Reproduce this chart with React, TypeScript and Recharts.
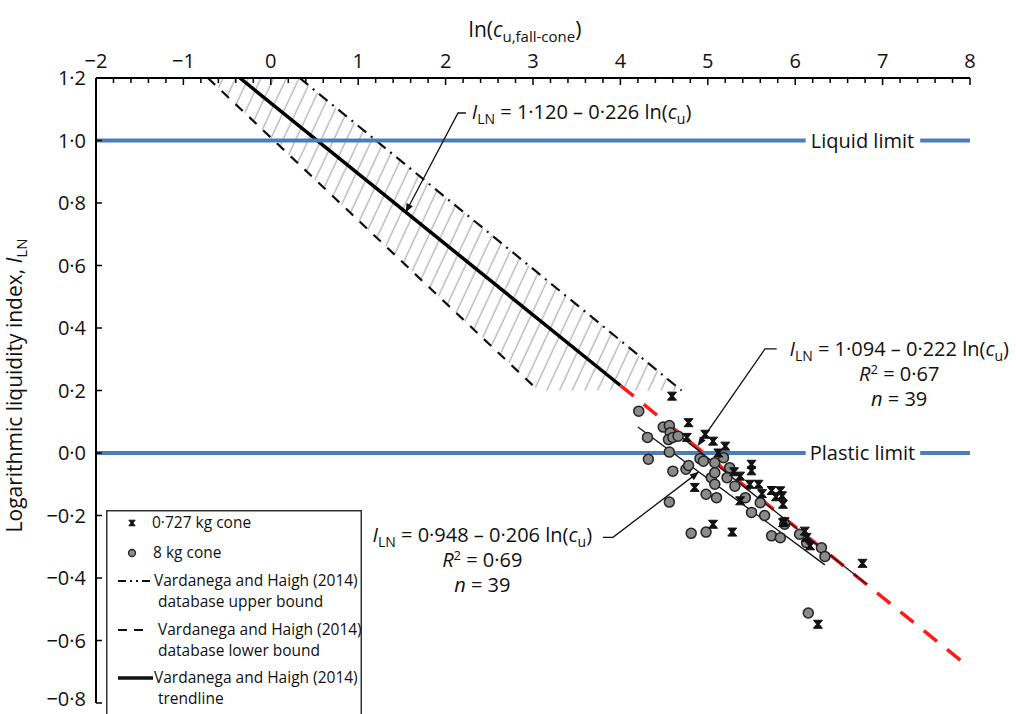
import { Area, ComposedChart, Legend, Line, ReferenceDot, ReferenceLine, Scatter, XAxis, YAxis } from "recharts";

const FONT = '"Open Sans", "Noto Sans", sans-serif';
const BLUE = "#4a7ebb";
const RED = "#ff1a1a";
const FS = 20; // annotation + tick font size

// axes
const X_LABELS = [-2, -1, 0, 1, 2, 3, 4, 5, 6, 7, 8];
const X_TICKS = Array.from({ length: 51 }, (_, i) => +(-2 + i * 0.2).toFixed(1)); // minor every 0.2
const Y_TICKS = [-0.8, -0.6, -0.4, -0.2, 0, 0.2, 0.4, 0.6, 0.8, 1.0, 1.2];

// 0·727 kg cone
const SMALL_X = [4.59, 4.78, 4.76, 4.97, 5.06, 5.2, 5.12, 4.85, 5.06, 5.28, 5.37, 5.37, 5.5, 5.5, 5.48, 5.58, 5.73, 5.83, 5.85, 5.86, 5.86, 6.11, 6.13, 6.17, 6.77, 6.26, 5.3, 5.78, 5.88, 5.62];
const SMALL_Y = [0.182, 0.097, 0.05, 0.06, 0.038, 0.022, 0.0, -0.11, -0.228, -0.253, -0.074, -0.153, -0.036, -0.057, -0.1, -0.1, -0.12, -0.121, -0.137, -0.164, -0.223, -0.25, -0.27, -0.297, -0.353, -0.548, -0.06, -0.14, -0.22, -0.13];

// 8 kg cone
const BIG_X = [4.21, 4.31, 4.32, 4.49, 4.56, 4.57, 4.55, 4.6, 4.66, 4.56, 4.56, 4.6, 4.75, 4.78, 4.81, 4.91, 4.95, 4.98, 4.98, 5.04, 5.08, 5.08, 5.08, 5.1, 5.18, 5.22, 5.25, 5.31, 5.43, 5.5, 5.6, 5.65, 5.73, 5.83, 5.88, 6.05, 6.13, 6.3, 6.34, 6.15];
const BIG_Y = [0.134, 0.05, -0.02, 0.083, 0.088, 0.065, 0.043, 0.05, 0.054, 0.003, -0.157, -0.058, -0.052, -0.04, -0.257, -0.018, -0.026, -0.132, -0.253, -0.079, -0.031, -0.063, -0.1, -0.143, -0.015, -0.079, -0.047, -0.106, -0.143, -0.19, -0.159, -0.2, -0.265, -0.271, -0.228, -0.26, -0.287, -0.303, -0.331, -0.512];

// Vardanega and Haigh (2014) database band (corners)
const BAND_X = [-0.72, 0.33, 3.06, 4.7];
const BAND_LO = [1.2, 0.92, 0.2, 0.2];
const BAND_HI = [1.2, 1.2, 0.575, 0.2];
const UPPER = [{ x: 0.33, y: 1.2 }, { x: 4.7, y: 0.2 }];
const LOWER = [{ x: -0.72, y: 1.2 }, { x: 3.06, y: 0.2 }];
const TREND = [{ x: -0.354, y: 1.2 }, { x: 4.0, y: 0.216 }];
const TREND_EXT = [{ x: 4.0, y: 0.216 }, { x: 8.0, y: -0.688 }];

// fitted lines of this study
const FIT_SMALL = [{ x: 4.65, y: 0.062 }, { x: 6.82, y: -0.42 }];
const FIT_BIG = [{ x: 4.2, y: 0.083 }, { x: 6.34, y: -0.358 }];

// leaders to the equations
const LEAD_TREND = [{ x: 2.233, y: 1.088 }, { x: 2.142, y: 1.088 }, { x: 1.547, y: 0.772 }];
const LEAD_SMALL = [{ x: 5.788, y: 0.333 }, { x: 5.654, y: 0.333 }, { x: 4.89, y: 0.025 }];
const LEAD_BIG = [{ x: 3.8, y: -0.27 }, { x: 3.915, y: -0.27 }, { x: 4.89, y: -0.062 }];

const small = SMALL_X.map((x, i) => ({ x, y: SMALL_Y[i] }));
const big = BIG_X.map((x, i) => ({ x, y: BIG_Y[i] }));
const band = BAND_X.map((x, i) => ({ x, band: [BAND_LO[i], BAND_HI[i]] }));

const fmtY = (v: number) => (v < 0 ? "−" : "") + Math.abs(v).toFixed(1).replace(".", "·");
const fmtX = (v: number) => (v < 0 ? "−" : "") + Math.abs(v);

function XTick({ x, y, payload }: any) {
  const v = payload.value;
  const major = X_LABELS.some((l) => Math.abs(l - v) < 1e-6);
  return (
    <g>
      <line x1={x} x2={x} y1={y} y2={y + (major ? 7 : 5)} stroke="#000" strokeWidth={1.5} />
      {major && (
        <text x={x} y={y - 10} textAnchor="middle" fontSize={FS} fontFamily={FONT} fill="#111">
          {fmtX(v)}
        </text>
      )}
    </g>
  );
}

function YTick({ x, y, payload }: any) {
  // lowest label sits right at the page edge; lift it a little so it stays whole
  const lift = payload.value === Y_TICKS[0] ? 4 : 0;
  return (
    <g>
      <line x1={x} x2={x + 6} y1={y} y2={y} stroke="#000" strokeWidth={1.5} />
      <text x={x - 10} y={y - lift} dy="0.35em" textAnchor="end" fontSize={FS} fontFamily={FONT} fill="#111">
        {fmtY(payload.value)}
      </text>
    </g>
  );
}

function Hourglass({ cx, cy, s = 1 }: any) {
  return (
    <path
      d={`M${cx - 4.5 * s},${cy - 4 * s} h${9 * s} l${-3.3 * s},${4 * s} l${3.3 * s},${4 * s} h${-9 * s} l${3.3 * s},${-4 * s} z`}
      fill="#111"
      stroke="#111"
      strokeWidth={1}
    />
  );
}

const Sub = ({ children, size = 14 }: any) => (
  <tspan fontSize={size} dy={5}>
    {children}
  </tspan>
);

function Equation({ cx, cy, a, b, anchor = "start" }: any) {
  return (
    <text x={cx} y={cy} textAnchor={anchor} fontSize={FS} fontFamily={FONT} fill="#111">
      <tspan fontStyle="italic">I</tspan>
      <Sub>LN</Sub>
      <tspan dy={-5}>{` = ${a} – ${b} ln(`}</tspan>
      <tspan fontStyle="italic">c</tspan>
      <Sub>u</Sub>
      <tspan dy={-5}>)</tspan>
    </text>
  );
}

function FitBlock({ cx, cy, a, b, r2 }: any) {
  return (
    <g>
      <Equation cx={cx} cy={cy} a={a} b={b} anchor="middle" />
      <text x={cx} y={cy + 25} textAnchor="middle" fontSize={FS} fontFamily={FONT} fill="#111">
        <tspan fontStyle="italic">R</tspan>
        <tspan fontSize={13} dy={-7}>2</tspan>
        <tspan dy={7}>{` = ${r2}`}</tspan>
      </text>
      <text x={cx} y={cy + 50} textAnchor="middle" fontSize={FS} fontFamily={FONT} fill="#111">
        <tspan fontStyle="italic">n</tspan> = 39
      </text>
    </g>
  );
}

function LimitLabel({ cx, cy, text }: any) {
  return (
    <text x={cx} y={cy} dy="0.35em" textAnchor="middle" fontSize={FS} fontFamily={FONT} fill="#111">
      {text}
    </text>
  );
}

function LegendBox() {
  const t = { fontSize: 15.5, fontFamily: FONT, fill: "#111" };
  return (
    <svg width={256} height={215} style={{ display: "block" }}>
      <rect x={0.75} y={0.75} width={254.5} height={230} fill="#fff" stroke="#333" strokeWidth={1.5} />
      <Hourglass cx={26} cy={13} s={0.7} />
      <text x={46} y={18} {...t}>0·727 kg cone</text>
      <circle cx={26} cy={43} r={3.5} fill="#8a8a8a" stroke="#222" strokeWidth={1.3} />
      <text x={47} y={48} {...t}>8 kg cone</text>
      <line x1={12} x2={45} y1={71} y2={71} stroke="#111" strokeWidth={2.2} strokeDasharray="8 4 2 4 2 4 8" />
      <text x={48} y={76} {...t}>Vardanega and Haigh (2014)</text>
      <text x={52} y={97} {...t}>database upper bound</text>
      <line x1={12} x2={38} y1={120} y2={120} stroke="#111" strokeWidth={2.2} strokeDasharray="9 7" />
      <text x={52} y={125} {...t}>Vardanega and Haigh (2014)</text>
      <text x={52} y={146} {...t}>database lower bound</text>
      <line x1={12} x2={47} y1={168} y2={168} stroke="#111" strokeWidth={3.5} />
      <text x={48} y={173} {...t}>Vardanega and Haigh (2014)</text>
      <text x={52} y={194} {...t}>trendline</text>
    </svg>
  );
}

export default function App() {
  return (
    <div style={{ position: "absolute", left: 0, top: 0, width: 1016, height: 714, overflow: "hidden", background: "#fff" }}>
      <ComposedChart width={1016} height={714} margin={{ top: 8, right: 46, bottom: 11, left: 36 }}>
        <defs>
          <pattern id="hatch" patternUnits="userSpaceOnUse" width={11.5} height={12} patternTransform="rotate(25)">
            <line x1={5} y1={0} x2={5} y2={12} stroke="#9c9c9c" strokeWidth={1} />
          </pattern>
          <marker id="arr" viewBox="0 0 10 10" refX={9} refY={5} markerUnits="userSpaceOnUse" markerWidth={10} markerHeight={9} orient="auto">
            <path d="M0,1 L10,5 L0,9 z" fill="#111" />
          </marker>
        </defs>
        <XAxis
          type="number"
          dataKey="x"
          orientation="top"
          domain={[-2, 8]}
          ticks={X_TICKS}
          interval={0}
          height={70}
          tickSize={0}
          tickMargin={0}
          tickLine={false}
          tick={<XTick />}
          axisLine={{ stroke: "#000", strokeWidth: 2 }}
          allowDataOverflow
          label={{
            content: ({ viewBox }: any) => (
              <text x={viewBox.x + viewBox.width / 2 - 8} y={viewBox.y + 29} textAnchor="middle" fontSize={21} fontFamily={FONT} fill="#111">
                ln(<tspan fontStyle="italic">c</tspan>
                <Sub size={15}>u,fall-cone</Sub>
                <tspan dy={-5}>)</tspan>
              </text>
            ),
          }}
        />
        <YAxis
          type="number"
          dataKey="y"
          domain={[-0.8, 1.2]}
          ticks={Y_TICKS}
          interval={0}
          width={60}
          tickSize={0}
          tickMargin={0}
          tickLine={false}
          tick={<YTick />}
          axisLine={{ stroke: "#000", strokeWidth: 2 }}
          allowDataOverflow
          label={{
            content: ({ viewBox }: any) => (
              <text
                transform={`translate(${viewBox.x - 14},${viewBox.y + viewBox.height / 2 - 5}) rotate(-90)`}
                textAnchor="middle"
                fontSize={21}
                fontFamily={FONT}
                fill="#111"
              >
                Logarithmic liquidity index, <tspan fontStyle="italic">I</tspan>
                <Sub size={15}>LN</Sub>
              </text>
            ),
          }}
        />
        <Legend layout="vertical" align="center" verticalAlign="middle" content={<LegendBox />} wrapperStyle={{ left: 106, top: 510, width: 256 }} />

        <Area data={band} dataKey="band" type="linear" stroke="none" fill="url(#hatch)" fillOpacity={1} isAnimationActive={false} legendType="none" />
        <Line data={UPPER} dataKey="y" stroke="#111" strokeWidth={2.2} strokeDasharray="11 6 2 6" dot={false} isAnimationActive={false} />
        <Line data={LOWER} dataKey="y" stroke="#111" strokeWidth={2.2} strokeDasharray="10 9" dot={false} isAnimationActive={false} />
        <Line data={TREND} dataKey="y" stroke="#000" strokeWidth={3.5} dot={false} isAnimationActive={false} />
        <Line data={TREND_EXT} dataKey="y" stroke={RED} strokeWidth={3.5} strokeDasharray="17 13" dot={false} isAnimationActive={false} />

        <ReferenceLine segment={[{ x: -2, y: 1 }, { x: 6.12, y: 1 }]} stroke={BLUE} strokeWidth={4} />
        <ReferenceLine segment={[{ x: 7.43, y: 1 }, { x: 8, y: 1 }]} stroke={BLUE} strokeWidth={4} />
        <ReferenceLine segment={[{ x: -2, y: 0 }, { x: 6.12, y: 0 }]} stroke={BLUE} strokeWidth={4} />
        <ReferenceLine segment={[{ x: 7.43, y: 0 }, { x: 8, y: 0 }]} stroke={BLUE} strokeWidth={4} />
        <ReferenceDot x={6.77} y={1} r={0} shape={(p: any) => <LimitLabel {...p} text="Liquid limit" />} />
        <ReferenceDot x={6.77} y={0} r={0} shape={(p: any) => <LimitLabel {...p} text="Plastic limit" />} />

        <Scatter data={big} dataKey="y" isAnimationActive={false} shape={(p: any) => <circle cx={p.cx} cy={p.cy} r={5} fill="#8a8a8a" stroke="#222" strokeWidth={1.5} />} />
        <Scatter data={small} dataKey="y" isAnimationActive={false} shape={(p: any) => <Hourglass cx={p.cx} cy={p.cy} />} />

        <Line data={FIT_SMALL} dataKey="y" stroke="#111" strokeWidth={1.3} dot={false} isAnimationActive={false} />
        <Line data={FIT_BIG} dataKey="y" stroke="#111" strokeWidth={1.3} dot={false} isAnimationActive={false} />

        <Line data={LEAD_TREND} dataKey="y" stroke="#111" strokeWidth={1.3} dot={false} markerEnd="url(#arr)" isAnimationActive={false} />
        <Line data={LEAD_SMALL} dataKey="y" stroke="#111" strokeWidth={1.3} dot={false} markerEnd="url(#arr)" isAnimationActive={false} />
        <Line data={LEAD_BIG} dataKey="y" stroke="#111" strokeWidth={1.3} dot={false} markerEnd="url(#arr)" isAnimationActive={false} />

        <ReferenceDot x={2.3} y={1.069} r={0} shape={(p: any) => <Equation {...p} a="1·120" b="0·226" />} />
        <ReferenceDot x={7.19} y={0.309} r={0} shape={(p: any) => <FitBlock {...p} a="1·094" b="0·222" r2="0·67" />} />
        <ReferenceDot x={2.42} y={-0.286} r={0} shape={(p: any) => <FitBlock {...p} a="0·948" b="0·206" r2="0·69" />} />
      </ComposedChart>
    </div>
  );
}
